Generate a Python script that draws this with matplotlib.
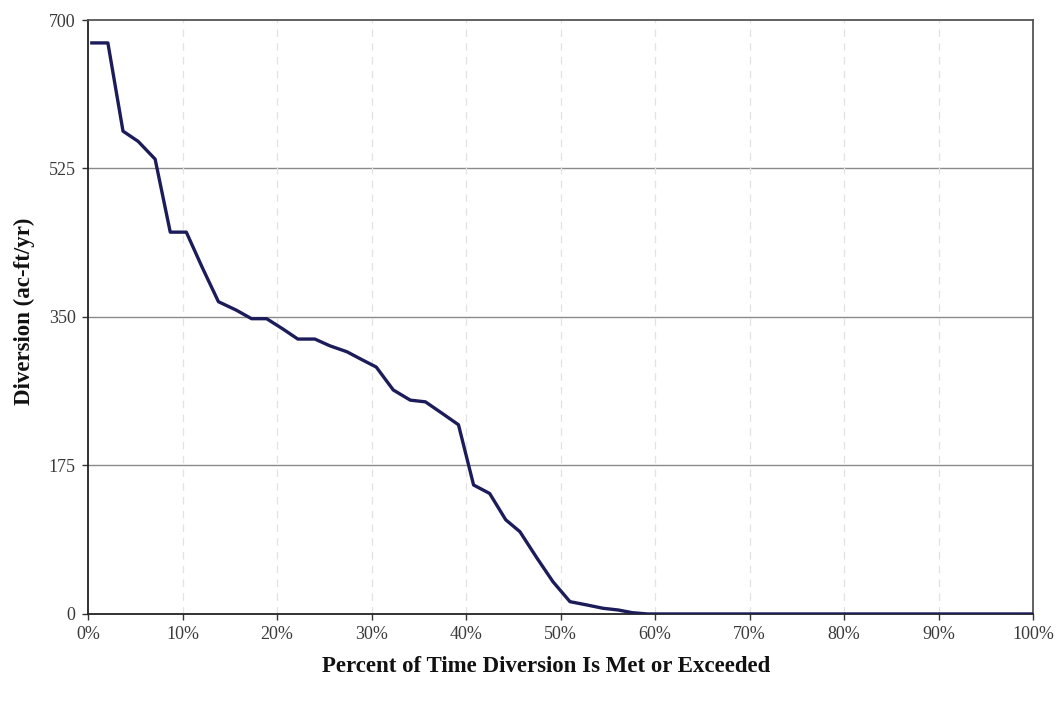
import matplotlib.pyplot as plt
from matplotlib.ticker import FixedLocator

# exceedance curve
pct = [0.4, 2.1, 3.7, 5.3, 7.1, 8.7, 10.4, 12.1, 13.8, 15.7, 17.3, 18.9,
       20.6, 22.2, 24.0, 25.6, 27.4, 29.1, 30.5, 32.3, 34.1, 35.7, 37.4,
       39.2, 40.8, 42.5, 44.2, 45.7, 47.5, 49.2, 51.0, 52.8, 54.5, 56.1,
       57.6, 59.2, 61.0, 65.0, 70.0, 80.0, 90.0, 100.0]
diversion = [673, 673, 569, 557, 536, 450, 450, 408, 368, 358, 348, 348,
             336, 324, 324, 316, 309, 299, 291, 264, 252, 250, 237,
             223, 152, 142, 111, 97, 66, 38, 14.5, 10.6, 6.7, 4.7,
             1.5, 0, 0, 0, 0, 0, 0, 0]

yticks = [0, 175, 350, 525, 700]
xticks = list(range(0, 101, 10))
xlabels = [f"{t}%" for t in xticks]

plt.rcParams['font.family'] = ['Liberation Serif', 'DejaVu Serif']

fig = plt.figure(figsize=(10.62, 7.02), dpi=100)
ax = fig.add_axes([0.0829, 0.1254, 0.8898, 0.8461])

for y in yticks[1:-1]:
    ax.axhline(y, color="#8a8a8a", lw=1.0, zorder=1)
for x in xticks[1:-1]:
    ax.axvline(x, color="#e2e2e2", lw=0.9, ls=(0, (6, 5)), zorder=1)

ax.plot(pct, diversion, color="#1c1c5a", lw=2.4, zorder=3)

ax.set_xlim(0, 100)
ax.set_ylim(0, 700)
ax.xaxis.set_major_locator(FixedLocator(xticks))
ax.set_xticklabels(xlabels)
ax.yaxis.set_major_locator(FixedLocator(yticks))
ax.tick_params(axis="both", direction="out", length=4, width=1, color="#333333",
               labelsize=13, labelcolor="#3a3a3a", pad=5)

ax.spines["left"].set_color("#222222")
ax.spines["bottom"].set_color("#222222")
ax.spines["top"].set_color("#555555")
ax.spines["right"].set_color("#555555")
for s in ax.spines.values():
    s.set_linewidth(1.3)

ax.set_xlabel("Percent of Time Diversion Is Met or Exceeded", fontsize=16.5,
              fontweight="bold", color="#111111", labelpad=9)
ax.xaxis.label.set_x(0.485)
ax.set_ylabel("Diversion (ac-ft/yr)", fontsize=16.5, fontweight="bold",
              color="#111111", labelpad=10)
ax.yaxis.label.set_y(0.51)

plt.savefig("out.png", dpi=100)
